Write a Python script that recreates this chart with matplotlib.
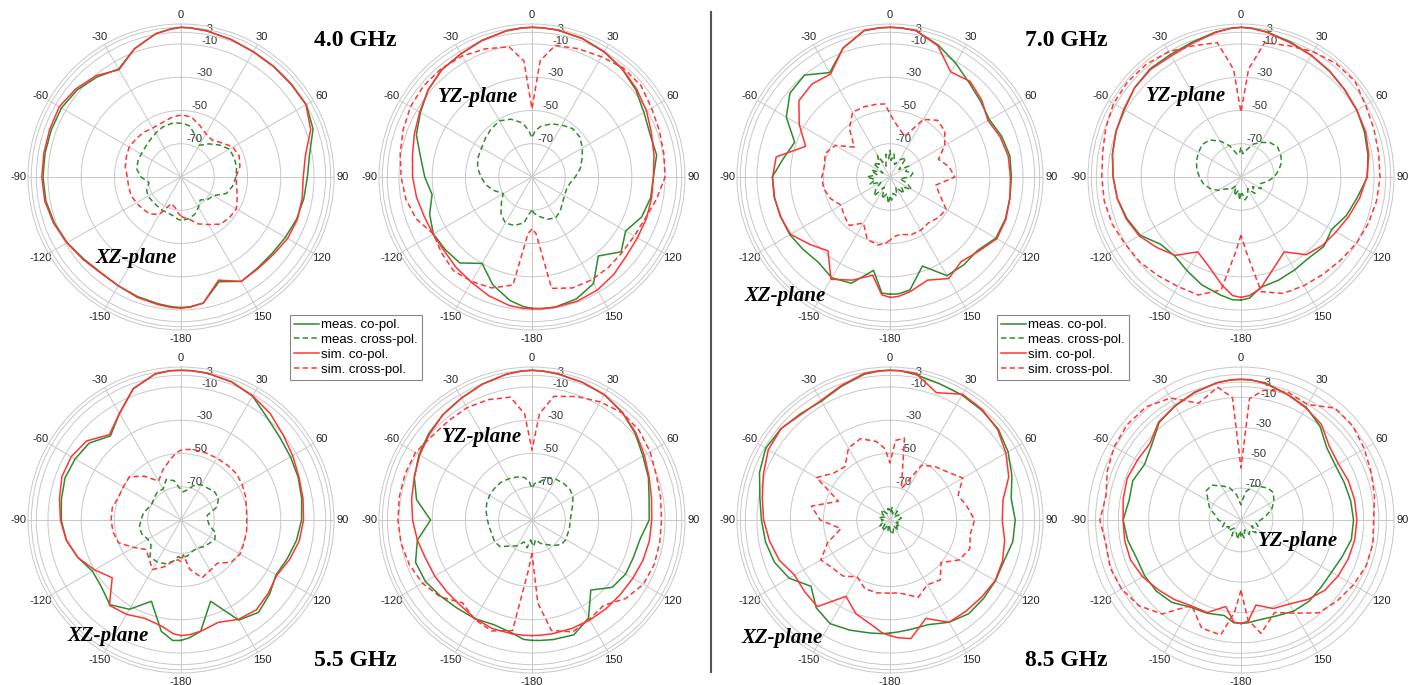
import numpy as np
import matplotlib
matplotlib.use('Agg')
import matplotlib.pyplot as plt
from matplotlib.lines import Line2D

W, H = 1423, 685
GREEN = '#2e8b2e'
RED = '#ff3535'

# angle grid in degrees (0 = broadside, clockwise positive)
ang = [-180, -176, -170, -160, -150, -140, -130, -120, -110, -100,
       -90, -80, -70, -60, -50, -40, -30, -20, -10, -4,
       0, 4, 10, 20, 30, 40, 50, 60, 70, 80,
       90, 100, 110, 120, 130, 140, 150, 160, 170, 176]

theta_labels = ['0', '30', '60', '90', '120', '150', '-180',
                '-150', '-120', '-90', '-60', '-30']

# ---- 4.0 GHz, XZ-plane
f40_xz_meas_co = [-11.5, -11.8, -12.5, -13.5, -14.5, -15, -13.5, -11, -9, -7.5,
                  -7, -7, -7, -7, -8.5, -11.5, -15, -8, -2.5, -0.8,
                  0, -0.2, -0.8, -2, -3, -3.3, -3.5, -3, -5.5, -11.5,
                  -14, -15, -16, -17.5, -18.5, -18.5, -17.5, -23, -13, -11.8]
f40_xz_meas_x = [-64, -64.5, -66, -67, -67, -67.5, -67.5, -67, -68, -70.5,
                 -66, -63, -62.4, -62.4, -62, -61, -59.5, -58, -57.3, -57.5,
                 -57.7, -58, -59, -64, -68, -64, -60, -56.4, -56, -56,
                 -57, -58.5, -61, -67.5, -69, -72, -69, -66, -64.5, -64.2]
f40_xz_sim_co = [-11.1, -11.3, -12, -13, -14.5, -14.7, -13, -10.8, -8.5, -6.8,
                 -6.3, -6.3, -6.0, -5.5, -7.5, -10.5, -15.5, -8, -2.5, -0.8,
                 0, -0.2, -0.8, -2, -3.1, -3.3, -3.3, -3.2, -7, -14,
                 -16.5, -16, -15.5, -16, -17.5, -18, -17.5, -24, -13, -11.5]
f40_xz_sim_x = [-66.5, -68, -71, -73, -64, -61, -60, -59, -58, -58,
                -57.7, -56, -55, -54, -54.5, -55, -56, -55.5, -54, -53.2,
                -52.8, -53, -53.5, -57, -60, -61, -58, -54, -52.8, -54,
                -57, -56, -54, -51.6, -52, -53, -57, -60, -64.5, -65.5]

# ---- 4.0 GHz, YZ-plane
f40_yz_meas_co = [-11, -12, -14.5, -21, -30, -22.5, -22, -21.5, -24.5, -29,
                  -25.5, -22, -16, -12.5, -8.5, -5.7, -4.5, -2.5, -0.8, -0.2,
                  0, -0.1, -0.3, -1.5, -3.2, -5.5, -8.5, -12.3, -14.5, -13.9,
                  -17, -17.6, -19.8, -25, -20, -28, -16, -12, -10.5, -10.7]
f40_yz_meas_x = [-70, -68, -62, -59, -58, -61, -66, -70, -66, -62,
                 -59.3, -56.7, -55.5, -55, -53.5, -52, -51, -53, -57, -62,
                 -66.5, -62, -59, -56, -54, -52, -52.5, -55, -58, -60.5,
                 -64, -67, -68, -67.5, -66, -63.5, -61.6, -63, -66, -68]
f40_yz_sim_co = [-10.8, -10.9, -11.5, -14, -17, -19, -21, -21.3, -21, -19.5,
                 -18.2, -17, -14.7, -12, -8.5, -5.7, -4.5, -2.5, -0.8, -0.2,
                 0, -0.1, -0.3, -1.3, -3, -5.3, -7.8, -10.5, -13.5, -15.5,
                 -17, -17, -16.8, -16.8, -16, -13.5, -11.5, -10.5, -10.5, -10.6]
f40_yz_sim_x = [-58.7, -56, -24, -19, -17.5, -16.5, -19, -21.5, -16, -13,
                -11.3, -9.5, -7.5, -5.6, -4.8, -5, -6, -8, -10.5, -20,
                -49, -20, -9.6, -8, -6.5, -4.5, -4.5, -7, -8.5, -9.5,
                -10, -13.9, -17.5, -19, -19.3, -18.8, -18.5, -19, -22, -56]

# ---- 5.5 GHz, XZ-plane
f55_xz_meas_co = [-17.6, -17.4, -22, -38, -28, -23.5, -27.5, -28.5, -24, -20,
                  -18, -17, -15.8, -16.5, -18, -24, -16, -6, -0.8, 0,
                  0, 0, -0.3, -1.5, -4, -9.5, -12.5, -14, -15, -16.3,
                  -17.5, -19.5, -22, -24, -20.5, -17.5, -20.5, -38, -22, -19]
f55_xz_meas_x = [-67, -68, -65, -62, -61, -61, -66.5, -67, -65, -64.5,
                 -66, -67, -69, -70, -69, -68, -68.5, -64, -66, -70,
                 -72, -73, -72, -68, -65.5, -65, -63.6, -64, -67, -74,
                 -74, -72.8, -68, -66.5, -68, -69, -70.5, -70, -68, -67.5]
f55_xz_sim_co = [-20.5, -21.5, -25, -27, -24.5, -23, -36, -30, -24, -20,
                 -17.5, -15.8, -13.8, -13.8, -16, -23, -16, -6, -0.8, 0,
                 0, 0, -0.3, -1.5, -3.8, -6.5, -10, -12.5, -14.5, -15.5,
                 -16.3, -17.8, -20.5, -23.5, -21.5, -19.5, -21, -24.5, -22, -20.8]
f55_xz_sim_x = [-65, -66, -65, -60, -55.6, -60, -62.5, -57, -50, -48.5,
                -48, -48, -50, -50, -49.5, -55.6, -63, -58, -53, -49.5,
                -48, -47.5, -47, -47, -47, -46.8, -46.5, -47.5, -48.7, -50,
                -50.5, -50, -49.7, -49, -50.5, -56, -55, -53, -60, -69]

# ---- 5.5 GHz, YZ-plane
f55_yz_meas_co = [-17.6, -18, -21, -23, -21.5, -20.5, -18.5, -16, -15.5, -20,
                  -29, -19.5, -14.7, -11.5, -9, -7, -5.3, -3, -1, -0.2,
                  0, -0.2, -0.8, -1.8, -3, -5.5, -9, -13, -15.5, -18.5,
                  -19.5, -24, -25, -25, -27, -35, -22, -16.5, -17, -17.4]
f55_yz_meas_x = [-76, -78, -73, -76, -72, -69.6, -65, -64, -64.5, -64,
                 -63.2, -62, -61, -60.5, -60.5, -60.6, -61.5, -62.5, -64, -67,
                 -71, -68, -67, -63, -61.6, -61, -60.6, -61.5, -64, -66,
                 -67, -67, -67, -66.5, -67, -70, -73, -75, -78, -74]
f55_yz_sim_co = [-20.5, -20.5, -20.5, -20.5, -21.5, -23, -23, -22.5, -22, -20,
                 -18.2, -16.5, -14.7, -12, -9.5, -7, -5.3, -3, -1, -0.2,
                 0, -0.2, -0.8, -1.8, -3, -5.5, -8.5, -12, -15, -17,
                 -18, -18.3, -19, -20, -20.5, -20.5, -20.5, -20.5, -20.5, -20.5]
f55_yz_sim_x = [-70, -60, -22.5, -19, -21, -25, -18, -14, -11.5, -10,
                -9.4, -9, -8.8, -9, -11.5, -12, -12, -13, -15, -26,
                -48, -26, -14.5, -11, -8, -5.8, -6, -8, -10.5, -11.5,
                -12.1, -12, -11.8, -12.7, -16.5, -23, -21, -18.4, -22.5, -40]

# ---- 7.0 GHz, XZ-plane
f70_xz_meas_co = [-19.5, -20, -33, -22, -20, -23, -22, -20.5, -20, -19.3,
                  -19.2, -25, -29, -18, -11.5, -10, -17.5, -7.5, -0.6, -0.1,
                  0, -0.1, -0.6, -5.5, -11, -16, -19, -21, -18.5, -16.8,
                  -17, -16.8, -16.2, -16.5, -21.3, -21, -21.5, -33, -21, -19.5]
f70_xz_meas_x = [-78, -74, -80, -76, -83, -75, -79, -84, -77, -81,
                 -76, -82, -78, -85, -77, -80, -75, -83, -76, -79,
                 -74, -80, -76, -82, -78, -75, -83, -77, -80, -76,
                 -78, -84, -79, -75, -81, -77, -83, -78, -80, -76]
f70_xz_sim_co = [-17.6, -19, -30, -24, -19, -32, -27, -21, -20, -19.5,
                 -19.4, -20.5, -36, -27, -18.5, -17, -18.5, -7.5, -0.6, -0.1,
                 0, -0.1, -0.6, -6, -17, -15, -18, -22, -19.5, -17.8,
                 -17.6, -16.8, -15.8, -15.8, -20.5, -23.5, -19.5, -24, -20, -18]
f70_xz_sim_x = [-52, -50, -48.5, -50, -58, -52, -54, -56, -52, -49.5,
                -49, -50, -48.5, -52, -62, -52, -45, -45, -45.5, -46,
                -52, -56, -60, -64, -50, -45.5, -47, -52, -59, -54,
                -51, -62, -58, -51, -52, -54, -53, -53, -55, -54]

# ---- 7.0 GHz, YZ-plane
f70_yz_meas_co = [-16, -16, -18, -21, -25, -28, -27, -20, -17, -14.5,
                  -13.1, -11.5, -10, -9, -6.5, -5, -5, -3.8, -1.5, -0.4,
                  0, -0.3, -1.3, -3.5, -5.5, -7, -8.5, -9.5, -11, -12.5,
                  -14, -19, -22.5, -27, -25, -26.5, -25.5, -24, -22.5, -17]
f70_yz_meas_x = [-80, -76, -82, -78, -84, -80, -79, -74, -70, -67,
                 -65, -63, -61.5, -60.5, -59.5, -61, -65, -70, -76, -76,
                 -72, -76, -74, -69, -66, -63, -61.5, -62.5, -64, -67,
                 -70, -74, -78, -76, -81, -77, -82, -78, -76, -80]
f70_yz_sim_co = [-17.6, -18.5, -24, -33, -38, -28.5, -24, -19.3, -16.5, -14.5,
                 -13.1, -11.5, -10, -8.6, -6.5, -5.5, -6, -4.5, -1.8, -0.4,
                 0, -0.4, -1.6, -4, -5.5, -7, -8.5, -9.6, -10.3, -12,
                 -14.3, -17.5, -21, -24, -26, -29, -38, -32, -22, -18.5]
f70_yz_sim_x = [-55, -45, -21, -14.5, -14, -12.5, -10.5, -9.5, -7.5, -6.5,
                -6.3, -5.5, -3.5, -1.5, -1, -1.5, -3, -6, -8, -25,
                -51, -25, -8, -6, -3, -1, -0.5, -3.5, -5, -6,
                -6.4, -7.2, -8.5, -10, -12, -13.5, -14.5, -15.5, -20, -45]

# ---- 8.5 GHz, XZ-plane
f85_xz_meas_co = [-22, -21.5, -21, -19.5, -18, -21, -28, -20, -16, -14,
                  -12.7, -10.5, -6.5, -3.7, -4.5, -6.5, -7.5, -4.5, -1, -0.2,
                  0, -0.1, -1.2, -2.8, -3.3, -4, -5, -8, -12, -16,
                  -14.7, -15, -17.2, -16.8, -16.6, -16.4, -19, -23, -23, -22.5]
f85_xz_meas_x = [-84, -86, -83, -87, -84, -82, -86, -83, -85, -84,
                 -86, -83, -85, -87, -84, -82, -85, -86, -83, -84,
                 -83, -85, -82, -86, -84, -83, -87, -84, -85, -83,
                 -85, -84, -86, -83, -85, -82, -86, -84, -81, -83]
f85_xz_sim_co = [-20.5, -22, -26, -30, -37, -22, -23, -23.7, -19.2, -16.5,
                 -14, -12, -9, -5.5, -4.5, -7, -7, -4, -0.5, 0,
                 0, 0, -0.5, -8.5, -2.7, -3.5, -5.5, -9.5, -14, -21,
                 -22.5, -20, -18, -17, -18, -18.6, -19, -27, -17.6, -19]
f85_xz_sim_x = [-46, -46, -45.5, -46, -50.5, -46, -45, -42, -50, -60,
                -48, -42, -57, -39, -46, -48, -40, -38, -42, -47,
                -55.7, -42, -40, -70, -52, -48, -45, -39.5, -46.4, -43,
                -39.1, -41, -39, -42, -50, -43, -45, -40.5, -45, -46]

# ---- 8.5 GHz, YZ-plane (radial axis reaches +10 dB here)
f85_yz_meas_co = [-22.7, -23, -27, -25.5, -24.5, -20, -18, -17.5, -17.6, -15,
                  -13.2, -16, -15, -17.5, -14, -7, -4, -1.2, 1, 1.7,
                  1.8, 1.6, 1, -2.5, -5, -10, -17, -19, -18.5, -17.5,
                  -16.7, -17, -20, -22, -22, -21, -21.5, -23.5, -24, -23]
f85_yz_meas_x = [-80, -84, -78, -82, -79, -84, -80, -82, -78, -80,
                 -76, -74, -69, -66, -61, -61, -65, -68, -74, -79,
                 -81, -78, -72, -67, -65.5, -63.5, -63, -66, -69.3, -74,
                 -78, -81, -79, -83, -78, -82, -80, -84, -79, -82]
f85_yz_sim_co = [-22.7, -23.5, -33, -26, -25.5, -22.5, -19.5, -16, -13.5, -13,
                 -13.2, -12, -11, -12, -12.5, -6.5, -4, -1.5, 1, 1.8,
                 1.9, 1.8, 0.5, -2.5, -5.5, -8.5, -15, -16.8, -15.5, -14.8,
                 -14.5, -14.8, -15.7, -17, -18.8, -22.5, -27, -28.8, -34, -24]
f85_yz_sim_x = [-44.6, -30, -14, -15, -26, -10, -3, 0, 1, -0.5,
                2.2, -0.5, 3, 5.7, 7, 6.5, 2, -9, -2, -10,
                -56.7, -10.6, -4, -1, -3, 5.5, 5.5, 3, 0.5, -1.5,
                -3.5, -2.5, -3, -5.3, -8, -11, -20, -26, -15, -25]

legend_labels = ['meas. co-pol.', 'meas. cross-pol.', 'sim. co-pol.', 'sim. cross-pol.']

plt.rcParams['font.family'] = ['Liberation Sans', 'DejaVu Sans']
DASH = (0, (3.5, 2.2))


def closed(v):
    return list(v) + [v[0]]


def panel(fig, cx, cy, mc, mx, sc, sx, rlo=-90, rhi=2,
          rings=(-70, -50, -30, -10, -3, 0)):
    R = 153
    ax = fig.add_axes([(cx - R) / W, 1 - (cy + R) / H, 2 * R / W, 2 * R / H],
                      projection='polar')
    ax.set_theta_zero_location('N')
    ax.set_theta_direction(-1)
    th = np.deg2rad(ang + [ang[0] + 360])
    ax.plot(th, closed(mc), color=GREEN, lw=1.1)
    ax.plot(th, closed(mx), color=GREEN, lw=1.1, ls=DASH)
    ax.plot(th, closed(sc), color=RED, lw=1.1)
    ax.plot(th, closed(sx), color=RED, lw=1.1, ls=DASH)
    ax.set_ylim(rlo, rhi)
    ax.set_yticks(rings)
    ax.set_yticklabels([str(r) if r < 0 else '' for r in rings],
                       fontsize=8, color='#333333')
    ax.set_rlabel_position(9)
    ax.set_thetagrids(range(0, 360, 30), labels=theta_labels,
                      fontsize=8, color='#222222')
    ax.tick_params(axis='x', pad=-4)
    ax.grid(color='#c8c8c8', lw=0.7)
    ax.spines['polar'].set_color('#c8c8c8')
    ax.spines['polar'].set_linewidth(0.7)
    return ax


fig = plt.figure(figsize=(W / 100, H / 100), dpi=100)

panel(fig, 181, 177, f40_xz_meas_co, f40_xz_meas_x, f40_xz_sim_co, f40_xz_sim_x)
panel(fig, 532, 177, f40_yz_meas_co, f40_yz_meas_x, f40_yz_sim_co, f40_yz_sim_x)
panel(fig, 890, 177, f70_xz_meas_co, f70_xz_meas_x, f70_xz_sim_co, f70_xz_sim_x)
panel(fig, 1241, 177, f70_yz_meas_co, f70_yz_meas_x, f70_yz_sim_co, f70_yz_sim_x)
panel(fig, 181, 520, f55_xz_meas_co, f55_xz_meas_x, f55_xz_sim_co, f55_xz_sim_x)
panel(fig, 532, 520, f55_yz_meas_co, f55_yz_meas_x, f55_yz_sim_co, f55_yz_sim_x)
panel(fig, 890, 520, f85_xz_meas_co, f85_xz_meas_x, f85_xz_sim_co, f85_xz_sim_x)
panel(fig, 1241, 520, f85_yz_meas_co, f85_yz_meas_x, f85_yz_sim_co, f85_yz_sim_x,
      rlo=-91, rhi=10, rings=(-70, -50, -30, -10, -3, 0, 5))

serif = ['Liberation Serif', 'DejaVu Serif']
for txt, x, y in [('4.0 GHz', 355, 40), ('5.5 GHz', 355, 660),
                  ('7.0 GHz', 1066, 40), ('8.5 GHz', 1066, 660)]:
    fig.text(x / W, 1 - y / H, txt, ha='center', va='center', fontsize=17,
             fontweight='bold', family=serif)

for txt, x, y in [('XZ-plane', 136, 258), ('YZ-plane', 478, 97),
                  ('XZ-plane', 785, 296), ('YZ-plane', 1186, 96),
                  ('XZ-plane', 108, 636), ('YZ-plane', 482, 437),
                  ('XZ-plane', 782, 638), ('YZ-plane', 1298, 541)]:
    fig.text(x / W, 1 - y / H, txt, ha='center', va='center', fontsize=15,
             fontweight='bold', fontstyle='italic', family=serif)

handles = [Line2D([], [], color=GREEN, lw=1.1),
           Line2D([], [], color=GREEN, lw=1.1, ls=DASH),
           Line2D([], [], color=RED, lw=1.1),
           Line2D([], [], color=RED, lw=1.1, ls=DASH)]
for lx in (290, 997):
    leg = fig.legend(handles, legend_labels, loc='upper left',
                     bbox_to_anchor=(lx / W, 1 - 315 / H), fontsize=9.5,
                     frameon=True, fancybox=False, edgecolor='#888888',
                     framealpha=1, handlelength=1.9, handletextpad=0.15,
                     labelspacing=0.2, borderpad=0.3, borderaxespad=0)
    leg.get_frame().set_linewidth(0.8)

fig.add_artist(Line2D([711 / W, 711 / W], [1 - 12 / H, 1 - 672 / H],
                      color='#555555', lw=1.5))

fig.savefig('out.png', dpi=100)
